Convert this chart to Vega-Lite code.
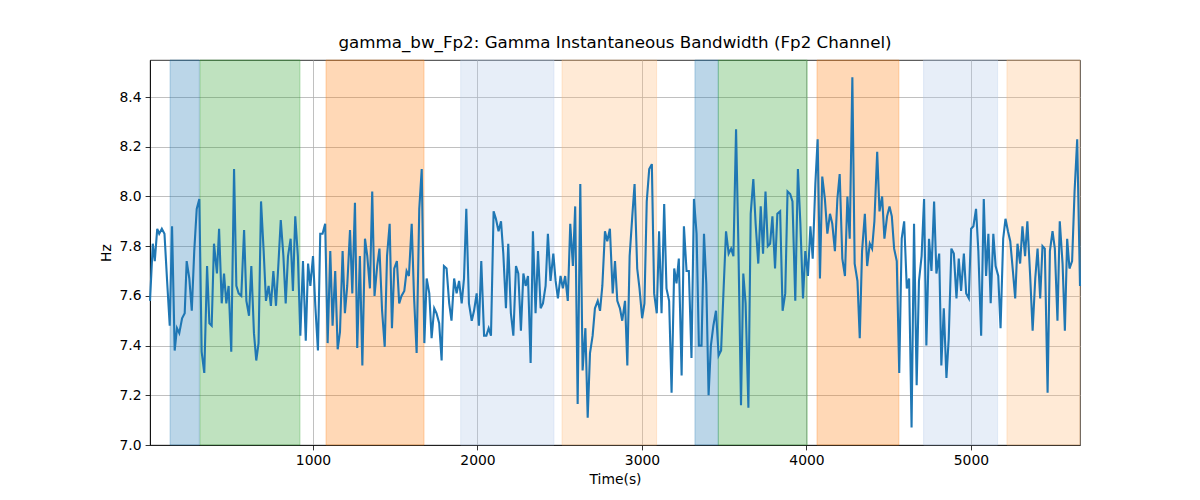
{
  "$schema": "https://vega.github.io/schema/vega-lite/v6.json",
  "width": 930,
  "height": 385,
  "autosize": {"type": "none"},
  "padding": {"left": 150, "top": 60, "right": 120, "bottom": 55},
  "background": "white",
  "title": {
    "text": "gamma_bw_Fp2: Gamma Instantaneous Bandwidth (Fp2 Channel)",
    "font": "DejaVu Sans",
    "fontSize": 16.7,
    "fontWeight": "normal",
    "color": "black",
    "offset": 8
  },
  "datasets": {
    "bands": [
      {"start": 131, "end": 309, "kind": "blue"},
      {"start": 313, "end": 921, "kind": "green"},
      {"start": 1079, "end": 1675, "kind": "orange"},
      {"start": 1898, "end": 2465, "kind": "lightblue"},
      {"start": 2514, "end": 3089, "kind": "lightorange"},
      {"start": 3322, "end": 3464, "kind": "blue"},
      {"start": 3464, "end": 4005, "kind": "green"},
      {"start": 4064, "end": 4562, "kind": "orange"},
      {"start": 4712, "end": 5162, "kind": "lightblue"},
      {"start": 5219, "end": 5663, "kind": "lightorange"}
    ],
    "series": [
      {"t":9,"v":7.58},{"t":26,"v":7.81},{"t":38,"v":7.74},{"t":53,"v":7.87},{"t":65,"v":7.85},{"t":81,"v":7.87},{"t":97,"v":7.85},{"t":113,"v":7.66},{"t":129,"v":7.48},{"t":143,"v":7.88},
      {"t":159,"v":7.38},{"t":173,"v":7.47},{"t":187,"v":7.45},{"t":204,"v":7.51},{"t":220,"v":7.53},{"t":232,"v":7.74},{"t":248,"v":7.67},{"t":263,"v":7.54},{"t":278,"v":7.78},{"t":293,"v":7.95},
      {"t":309,"v":7.99},{"t":323,"v":7.375},{"t":339,"v":7.29},{"t":356,"v":7.72},{"t":370,"v":7.49},{"t":384,"v":7.48},{"t":398,"v":7.81},{"t":416,"v":7.69},{"t":429,"v":7.87},{"t":445,"v":7.57},
      {"t":459,"v":7.69},{"t":473,"v":7.57},{"t":487,"v":7.64},{"t":503,"v":7.375},{"t":520,"v":8.11},{"t":534,"v":7.64},{"t":548,"v":7.61},{"t":564,"v":7.6},{"t":581,"v":7.865},{"t":595,"v":7.58},
      {"t":611,"v":7.52},{"t":625,"v":7.72},{"t":641,"v":7.45},{"t":655,"v":7.34},{"t":669,"v":7.41},{"t":684,"v":7.98},{"t":700,"v":7.78},{"t":714,"v":7.58},{"t":730,"v":7.64},{"t":744,"v":7.56},
      {"t":759,"v":7.7},{"t":775,"v":7.56},{"t":789,"v":7.72},{"t":804,"v":7.905},{"t":820,"v":7.76},{"t":834,"v":7.57},{"t":848,"v":7.76},{"t":864,"v":7.83},{"t":878,"v":7.62},{"t":892,"v":7.92},
      {"t":908,"v":7.76},{"t":923,"v":7.44},{"t":939,"v":7.74},{"t":956,"v":7.42},{"t":970,"v":7.73},{"t":984,"v":7.64},{"t":1000,"v":7.76},{"t":1014,"v":7.56},{"t":1030,"v":7.38},{"t":1044,"v":7.85},
      {"t":1058,"v":7.85},{"t":1074,"v":7.89},{"t":1089,"v":7.41},{"t":1105,"v":7.78},{"t":1119,"v":7.48},{"t":1135,"v":7.7},{"t":1150,"v":7.385},{"t":1164,"v":7.455},{"t":1180,"v":7.78},{"t":1194,"v":7.53},
      {"t":1208,"v":7.64},{"t":1225,"v":7.865},{"t":1239,"v":7.61},{"t":1255,"v":7.975},{"t":1269,"v":7.39},{"t":1285,"v":7.76},{"t":1300,"v":7.32},{"t":1316,"v":7.83},{"t":1330,"v":7.76},{"t":1346,"v":7.63},
      {"t":1360,"v":8.02},{"t":1374,"v":7.6},{"t":1390,"v":7.72},{"t":1404,"v":7.79},{"t":1420,"v":7.54},{"t":1436,"v":7.395},{"t":1450,"v":7.76},{"t":1466,"v":7.89},{"t":1480,"v":7.47},{"t":1494,"v":7.71},
      {"t":1510,"v":7.74},{"t":1524,"v":7.57},{"t":1538,"v":7.6},{"t":1555,"v":7.62},{"t":1569,"v":7.7},{"t":1583,"v":7.68},{"t":1600,"v":7.89},{"t":1614,"v":7.6},{"t":1630,"v":7.37},{"t":1646,"v":7.95},
      {"t":1661,"v":8.11},{"t":1677,"v":7.41},{"t":1691,"v":7.67},{"t":1707,"v":7.61},{"t":1721,"v":7.43},{"t":1737,"v":7.55},{"t":1751,"v":7.53},{"t":1767,"v":7.49},{"t":1782,"v":7.34},{"t":1796,"v":7.72},
      {"t":1812,"v":7.71},{"t":1828,"v":7.57},{"t":1842,"v":7.5},{"t":1858,"v":7.67},{"t":1873,"v":7.61},{"t":1888,"v":7.66},{"t":1904,"v":7.57},{"t":1918,"v":7.67},{"t":1932,"v":7.95},{"t":1948,"v":7.57},
      {"t":1965,"v":7.5},{"t":1979,"v":7.54},{"t":1995,"v":7.61},{"t":2009,"v":7.48},{"t":2023,"v":7.74},{"t":2040,"v":7.44},{"t":2054,"v":7.44},{"t":2068,"v":7.47},{"t":2082,"v":7.44},{"t":2098,"v":7.94},
      {"t":2112,"v":7.91},{"t":2128,"v":7.86},{"t":2143,"v":7.9},{"t":2157,"v":7.77},{"t":2173,"v":7.55},{"t":2187,"v":7.81},{"t":2203,"v":7.53},{"t":2218,"v":7.44},{"t":2234,"v":7.72},{"t":2248,"v":7.69},
      {"t":2264,"v":7.46},{"t":2279,"v":7.69},{"t":2293,"v":7.64},{"t":2307,"v":7.68},{"t":2323,"v":7.33},{"t":2337,"v":7.86},{"t":2353,"v":7.53},{"t":2368,"v":7.78},{"t":2384,"v":7.55},{"t":2398,"v":7.57},
      {"t":2414,"v":7.64},{"t":2428,"v":7.85},{"t":2444,"v":7.66},{"t":2461,"v":7.77},{"t":2475,"v":7.66},{"t":2489,"v":7.59},{"t":2505,"v":7.68},{"t":2519,"v":7.63},{"t":2533,"v":7.68},{"t":2549,"v":7.58},
      {"t":2564,"v":7.89},{"t":2580,"v":7.72},{"t":2594,"v":7.96},{"t":2609,"v":7.165},{"t":2625,"v":8.05},{"t":2639,"v":7.3},{"t":2656,"v":7.47},{"t":2670,"v":7.11},{"t":2684,"v":7.37},{"t":2700,"v":7.44},
      {"t":2714,"v":7.55},{"t":2731,"v":7.58},{"t":2745,"v":7.54},{"t":2759,"v":7.64},{"t":2775,"v":7.86},{"t":2789,"v":7.82},{"t":2805,"v":7.87},{"t":2822,"v":7.61},{"t":2836,"v":7.74},{"t":2850,"v":7.58},
      {"t":2866,"v":7.55},{"t":2880,"v":7.5},{"t":2897,"v":7.58},{"t":2911,"v":7.32},{"t":2925,"v":7.76},{"t":2941,"v":7.92},{"t":2955,"v":8.05},{"t":2971,"v":7.71},{"t":2985,"v":7.63},{"t":3001,"v":7.51},
      {"t":3015,"v":7.57},{"t":3029,"v":7.98},{"t":3044,"v":8.11},{"t":3060,"v":8.13},{"t":3074,"v":7.61},{"t":3090,"v":7.53},{"t":3104,"v":7.86},{"t":3119,"v":7.53},{"t":3135,"v":7.97},{"t":3149,"v":7.63},
      {"t":3165,"v":7.58},{"t":3180,"v":7.21},{"t":3196,"v":7.71},{"t":3210,"v":7.65},{"t":3224,"v":7.75},{"t":3241,"v":7.28},{"t":3255,"v":7.88},{"t":3271,"v":7.7},{"t":3285,"v":7.7},{"t":3301,"v":7.35},
      {"t":3316,"v":7.99},{"t":3332,"v":7.85},{"t":3346,"v":7.4},{"t":3362,"v":7.4},{"t":3377,"v":7.85},{"t":3391,"v":7.65},{"t":3405,"v":7.2},{"t":3419,"v":7.4},{"t":3434,"v":7.48},{"t":3450,"v":7.54},
      {"t":3466,"v":7.36},{"t":3481,"v":7.38},{"t":3497,"v":7.64},{"t":3511,"v":7.86},{"t":3527,"v":7.77},{"t":3542,"v":7.79},{"t":3556,"v":7.76},{"t":3572,"v":8.27},{"t":3586,"v":7.81},{"t":3602,"v":7.16},
      {"t":3616,"v":7.69},{"t":3630,"v":7.57},{"t":3647,"v":7.15},{"t":3661,"v":7.93},{"t":3677,"v":8.07},{"t":3691,"v":7.89},{"t":3707,"v":7.73},{"t":3722,"v":7.96},{"t":3736,"v":7.77},{"t":3751,"v":8.02},
      {"t":3765,"v":7.8},{"t":3779,"v":7.81},{"t":3793,"v":7.92},{"t":3809,"v":7.71},{"t":3823,"v":7.93},{"t":3840,"v":7.94},{"t":3855,"v":7.54},{"t":3871,"v":7.61},{"t":3885,"v":8.02},{"t":3901,"v":8.01},
      {"t":3915,"v":7.98},{"t":3932,"v":7.58},{"t":3948,"v":8.11},{"t":3963,"v":7.89},{"t":3979,"v":7.59},{"t":3993,"v":7.78},{"t":4009,"v":7.68},{"t":4024,"v":7.88},{"t":4038,"v":7.75},{"t":4054,"v":8.05},
      {"t":4068,"v":8.23},{"t":4082,"v":7.67},{"t":4096,"v":8.08},{"t":4112,"v":7.99},{"t":4127,"v":7.85},{"t":4143,"v":7.93},{"t":4157,"v":7.89},{"t":4173,"v":7.78},{"t":4188,"v":7.99},{"t":4202,"v":8.09},
      {"t":4218,"v":7.75},{"t":4234,"v":7.68},{"t":4249,"v":8.0},{"t":4263,"v":7.83},{"t":4279,"v":8.48},{"t":4293,"v":7.73},{"t":4310,"v":7.66},{"t":4324,"v":7.43},{"t":4338,"v":7.78},{"t":4355,"v":7.93},
      {"t":4369,"v":7.72},{"t":4385,"v":7.81},{"t":4399,"v":7.79},{"t":4413,"v":7.9},{"t":4430,"v":8.18},{"t":4444,"v":7.94},{"t":4460,"v":8.0},{"t":4474,"v":7.83},{"t":4490,"v":7.92},{"t":4505,"v":7.96},
      {"t":4519,"v":7.92},{"t":4533,"v":7.79},{"t":4549,"v":7.74},{"t":4564,"v":7.29},{"t":4579,"v":7.83},{"t":4594,"v":7.9},{"t":4610,"v":7.63},{"t":4624,"v":7.67},{"t":4639,"v":7.07},{"t":4654,"v":7.89},
      {"t":4670,"v":7.24},{"t":4684,"v":7.66},{"t":4700,"v":7.76},{"t":4715,"v":7.99},{"t":4729,"v":7.4},{"t":4745,"v":7.83},{"t":4760,"v":7.7},{"t":4776,"v":7.98},{"t":4790,"v":7.69},{"t":4807,"v":7.77},
      {"t":4820,"v":7.32},{"t":4835,"v":7.55},{"t":4851,"v":7.27},{"t":4865,"v":7.43},{"t":4881,"v":7.79},{"t":4896,"v":7.77},{"t":4912,"v":7.59},{"t":4926,"v":7.75},{"t":4940,"v":7.62},{"t":4957,"v":7.77},
      {"t":4971,"v":7.61},{"t":4987,"v":7.59},{"t":5001,"v":7.87},{"t":5015,"v":7.88},{"t":5031,"v":7.95},{"t":5045,"v":7.78},{"t":5062,"v":7.44},{"t":5078,"v":7.99},{"t":5092,"v":7.68},{"t":5106,"v":7.85},
      {"t":5120,"v":7.57},{"t":5136,"v":7.85},{"t":5150,"v":7.72},{"t":5166,"v":7.68},{"t":5180,"v":7.47},{"t":5196,"v":7.83},{"t":5210,"v":7.91},{"t":5225,"v":7.86},{"t":5239,"v":7.82},{"t":5255,"v":7.7},
      {"t":5269,"v":7.59},{"t":5283,"v":7.81},{"t":5299,"v":7.73},{"t":5313,"v":7.88},{"t":5329,"v":7.76},{"t":5343,"v":7.9},{"t":5360,"v":7.68},{"t":5375,"v":7.46},{"t":5391,"v":7.67},{"t":5405,"v":7.79},
      {"t":5421,"v":7.59},{"t":5435,"v":7.8},{"t":5449,"v":7.79},{"t":5466,"v":7.21},{"t":5480,"v":7.78},{"t":5496,"v":7.86},{"t":5510,"v":7.79},{"t":5526,"v":7.5},{"t":5540,"v":7.9},{"t":5557,"v":7.73},
      {"t":5571,"v":7.46},{"t":5585,"v":7.83},{"t":5599,"v":7.71},{"t":5615,"v":7.74},{"t":5630,"v":8.02},{"t":5646,"v":8.23},{"t":5663,"v":7.64}
    ]
  },
  "layer": [
    {
      "data": {"name": "bands"},
      "mark": {"type": "rect", "fillOpacity": 0.3, "strokeOpacity": 0.3, "strokeWidth": 1},
      "encoding": {
        "x": {
          "field": "start",
          "type": "quantitative",
          "scale": {"domain": [9, 5663], "nice": false, "zero": false},
          "axis": {"values": [1000, 2000, 3000, 4000, 5000], "format": "d", "title": "Time(s)", "titlePadding": 5}
        },
        "x2": {"field": "end"},
        "fill": {
          "field": "kind",
          "type": "nominal",
          "scale": {
            "domain": ["blue", "green", "orange", "lightblue", "lightorange"],
            "range": ["#1f77b4", "#2ca02c", "#ff7f0e", "#aec7e8", "#ffbb78"]
          },
          "legend": null
        },
        "stroke": {
          "field": "kind",
          "type": "nominal",
          "scale": {
            "domain": ["blue", "green", "orange", "lightblue", "lightorange"],
            "range": ["#1f77b4", "#2ca02c", "#ff7f0e", "#aec7e8", "#ffbb78"]
          },
          "legend": null
        }
      }
    },
    {
      "data": {"name": "series"},
      "mark": {"type": "line", "color": "#1f77b4", "strokeWidth": 2.1},
      "encoding": {
        "x": {
          "field": "t",
          "type": "quantitative",
          "scale": {"domain": [9, 5663], "nice": false, "zero": false},
          "axis": {"values": [1000, 2000, 3000, 4000, 5000], "format": "d", "title": "Time(s)", "titlePadding": 5}
        },
        "y": {
          "field": "v",
          "type": "quantitative",
          "scale": {"domain": [7.0, 8.549], "nice": false, "zero": false},
          "axis": {"values": [7.0, 7.2, 7.4, 7.6, 7.8, 8.0, 8.2, 8.4], "format": ".1f", "title": "Hz", "titlePadding": 6}
        }
      }
    }
  ],
  "config": {
    "view": {"stroke": "black", "strokeWidth": 0.8},
    "axis": {
      "labelFont": "DejaVu Sans",
      "labelFontSize": 13.9,
      "labelColor": "black",
      "labelPadding": 4,
      "tickColor": "black",
      "tickSize": 4.9,
      "tickWidth": 0.8,
      "domainColor": "black",
      "domainWidth": 0.8,
      "gridColor": "#b0b0b0",
      "gridWidth": 0.8,
      "gridOpacity": 1,
      "titleFont": "DejaVu Sans",
      "titleFontSize": 13.9,
      "titleFontWeight": "normal",
      "titleColor": "black"
    }
  }
}
